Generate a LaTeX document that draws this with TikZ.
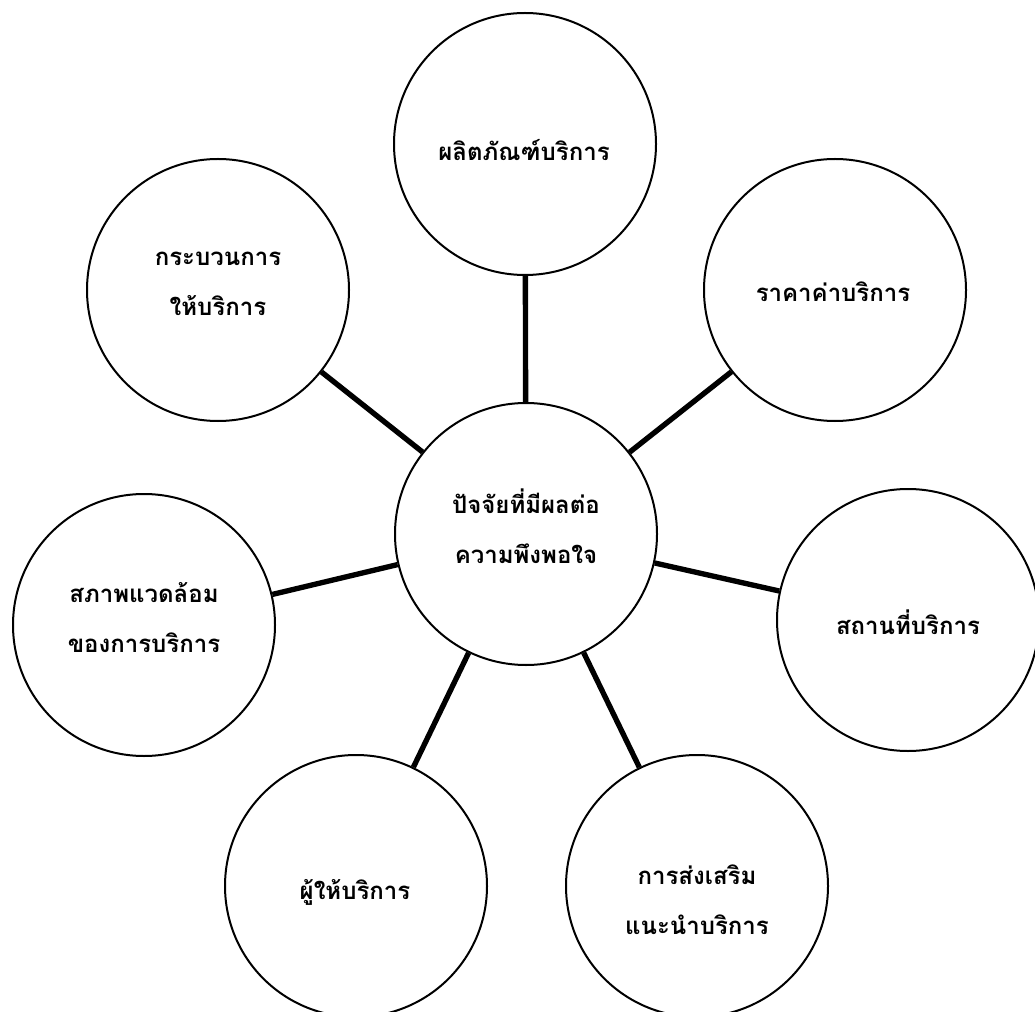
\documentclass[tikz,border=0pt]{standalone}
\usepackage{fontspec}
\newfontfamily\thai[Script=Thai]{Loma}
\begin{document}
\begin{tikzpicture}[x=0.75pt,y=-0.75pt,
  bubble/.style={circle,draw=black,line width=1.5pt,minimum size=196.5pt,inner sep=0pt},
  txt/.style={align=center,inner sep=0pt,font=\thai\bfseries\fontsize{18}{37.5}\selectfont},
  conn/.style={line width=4pt}]
\useasboundingbox (0,0) rectangle (1035,1012);
\node[bubble] (c)  at (526,534) {};
\node[bubble] (n1) at (525,144) {};
\node[bubble] (n2) at (835,290) {};
\node[bubble] (n3) at (908,620) {};
\node[bubble] (n4) at (697,886) {};
\node[bubble] (n5) at (356,886) {};
\node[bubble] (n6) at (144,625) {};
\node[bubble] (n7) at (218,290) {};
\node[txt] (tc) at (526,526) {ปัจจัยที่มีผลต่อ\\ความพึงพอใจ};
\node[txt] (t1) at (524,150) {ผลิตภัณฑ์บริการ};
\node[txt] (t2) at (833,292) {ราคาค่าบริการ};
\node[txt] (t3) at (908,622) {สถานที่บริการ};
\node[txt] (t4) at (697,900) {การส่งเสริม\\แนะนำบริการ};
\node[txt] (t5) at (355,892) {ผู้ให้บริการ};
\node[txt] (t6) at (144,618) {สภาพแวดล้อม\\ของการบริการ};
\node[txt] (t7) at (218,284) {กระบวนการ\\ให้บริการ};
\foreach \n in {n1,n2,n3,n4,n5,n6,n7} \draw[conn] (c) -- (\n);
\end{tikzpicture}
\end{document}
